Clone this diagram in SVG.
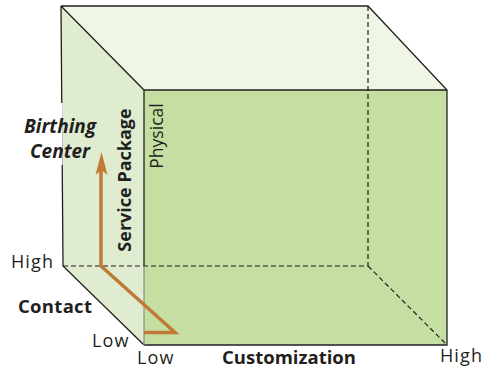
<svg xmlns="http://www.w3.org/2000/svg" width="486" height="371" viewBox="0 0 486 371">
  <style>
    .lbl { font-family: "Open Sans", "Liberation Sans", sans-serif; fill: #231f20; }
    .b { font-weight: bold; }
    .wide { letter-spacing: 1.1px; }
    .edge { stroke: #231f20; stroke-width: 1.3; fill: none; }
    .dash { stroke: #231f20; stroke-width: 1.2; fill: none; stroke-dasharray: 5 3; }
    .path { stroke: #c07a35; stroke-width: 3.5; fill: none; stroke-linejoin: miter; }
  </style>

  <g id="cube">
    <!-- faces -->
    <polygon points="61,6 368,6 447,90 144,90" fill="#eff6e5"/>
    <polygon points="61,6 144,90 144,345 63,266" fill="#e0ecd0"/>
    <rect x="144" y="90" width="303" height="255" fill="#c5dfa3"/>
    <!-- hidden edges -->
    <path class="dash" d="M63,266 H368 V6 M368,266 L447,345"/>
    <!-- visible edges -->
    <path class="edge" d="M61,6 H368 L447,90 V345 H144 M61,6 L144,90 H447 M144,90 V266 M61,6 L63,266 L144,345"/>
    <path d="M144,266 V345" stroke="#8a8a8a" stroke-width="1.2" fill="none"/>
  </g>

  <g id="birthing-label">
    <rect x="18" y="103" width="44.6" height="62" fill="#ffffff"/>
    <text class="lbl b" font-style="italic" font-size="19" x="60" y="133" text-anchor="middle">Birthing</text>
    <text class="lbl b" font-style="italic" font-size="19" x="60" y="158" text-anchor="middle">Center</text>
  </g>

  <g id="connectors">
    <path class="path" d="M144,332.5 H175 L101,266 V170"/>
    <polygon points="101.5,152 107.5,175 101.5,170 95.5,175" fill="#c07a35"/>
  </g>

  <g id="axis-labels">
    <text class="lbl b" font-size="18" transform="translate(131,180) rotate(-90)" text-anchor="middle">Service Package</text>
    <text class="lbl" font-size="17.5" transform="translate(163,136) rotate(-90)" text-anchor="middle">Physical</text>
    <text class="lbl wide" font-size="18" x="11" y="268">High</text>
    <text class="lbl b" font-size="18.5" x="18" y="313" letter-spacing="0.3">Contact</text>
    <text class="lbl wide" font-size="18" x="92" y="347">Low</text>
    <text class="lbl wide" font-size="18" x="137" y="364">Low</text>
    <text class="lbl b" font-size="18.5" x="289" y="364" text-anchor="middle">Customization</text>
    <text class="lbl wide" font-size="18" x="440" y="362">High</text>
  </g>
</svg>
